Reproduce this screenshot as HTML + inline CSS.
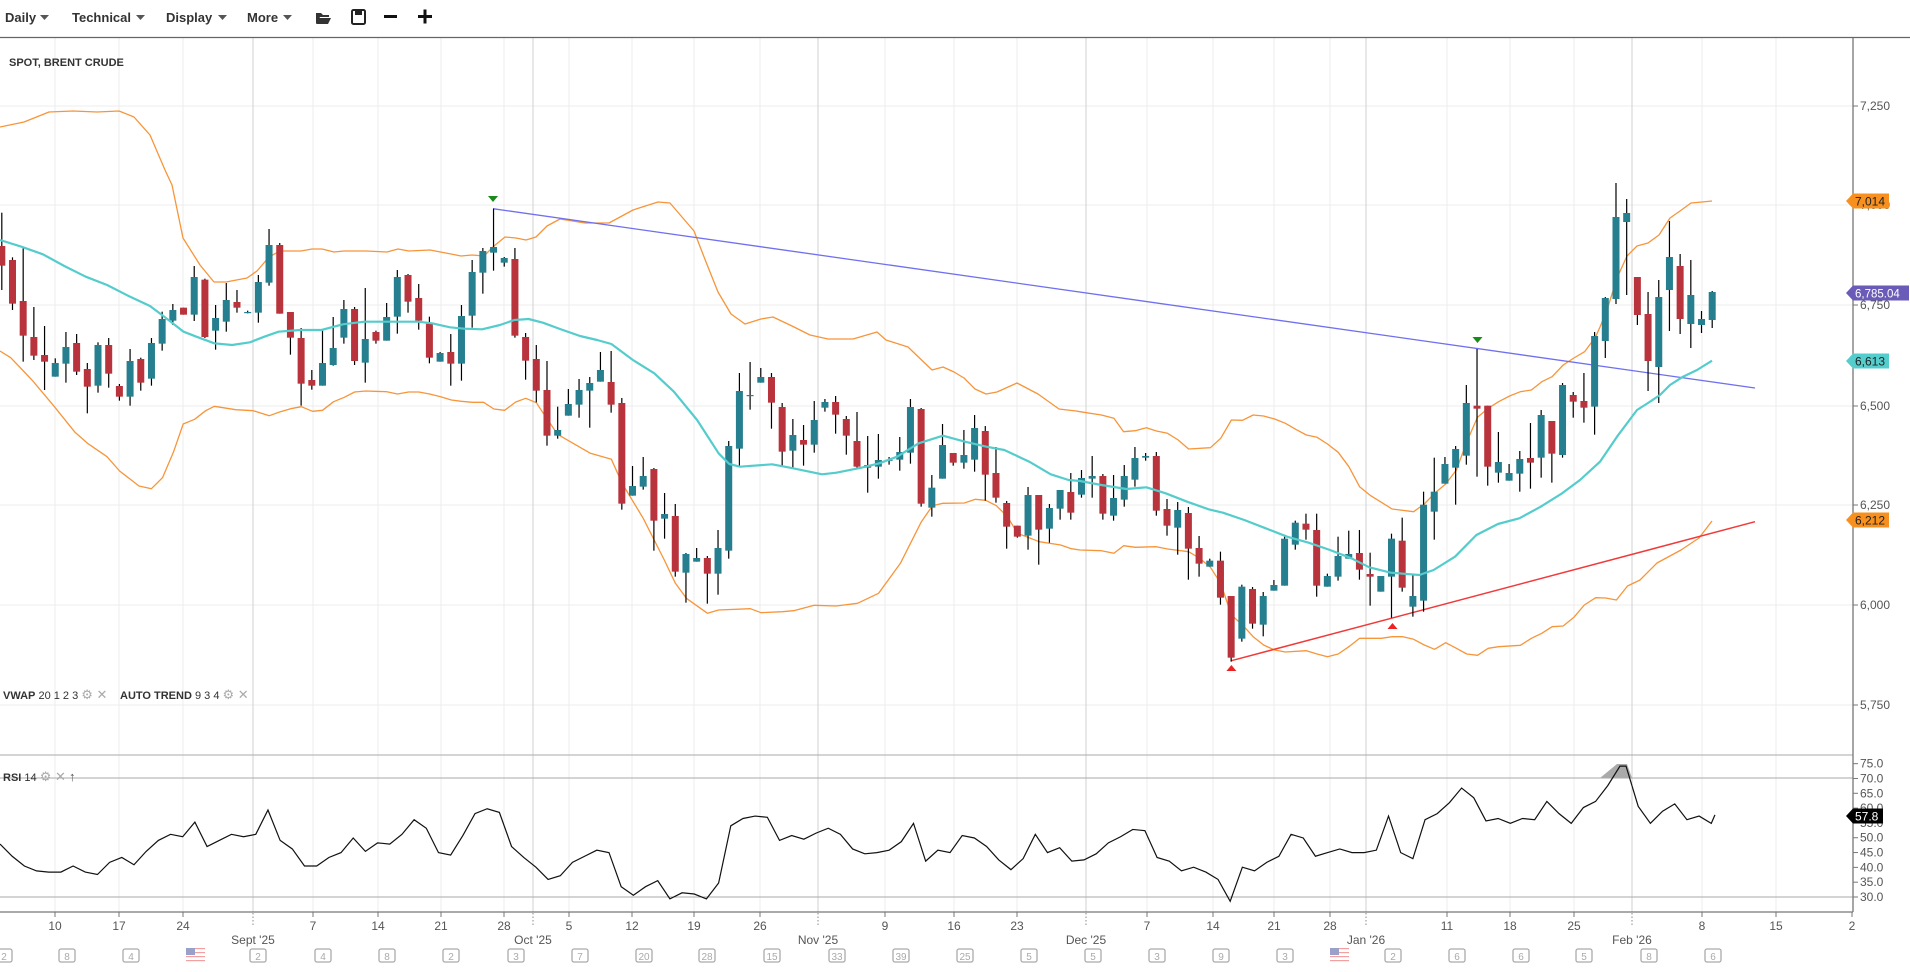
<!DOCTYPE html>
<html><head><meta charset="utf-8">
<style>
html,body{margin:0;padding:0;background:#fff;}
body{width:1910px;height:967px;overflow:hidden;font-family:"Liberation Sans",sans-serif;}
svg text{font-family:"Liberation Sans","DejaVu Sans",sans-serif;}
</style></head>
<body>
<svg id="s" width="1910" height="967" viewBox="0 0 1910 967" xmlns="http://www.w3.org/2000/svg">
<rect width="1910" height="967" fill="#fff"/>
<defs><clipPath id="cp"><rect x="0" y="38" width="1853" height="717"/></clipPath>
<clipPath id="cr"><rect x="0" y="755" width="1853" height="157"/></clipPath></defs>
<g id="grid"></g>
<g font-size="13" font-weight="bold" fill="#333">
<text x="5" y="22">Daily</text><path d="M40 15l9 0-4.5 5z" fill="#555"/>
<text x="72" y="22">Technical</text><path d="M136 15l9 0-4.5 5z" fill="#555"/>
<text x="166" y="22">Display</text><path d="M218 15l9 0-4.5 5z" fill="#555"/>
<text x="247" y="22">More</text><path d="M283 15l9 0-4.5 5z" fill="#555"/>
</g>
<path d="M316 13h5l2 2h6v2h-9l-3 6h-1z M319 18h12l-3 6h-12z" fill="#333"/>
<rect x="352" y="10" width="13" height="14" rx="1.5" fill="none" stroke="#222" stroke-width="2"/><rect x="355" y="10" width="7" height="5" fill="#222"/>
<rect x="384" y="15" width="13" height="3" fill="#111"/>
<rect x="418" y="15" width="14" height="3" fill="#111"/><rect x="423.5" y="9.5" width="3" height="14" fill="#111"/>
<line x1="0" y1="37.5" x2="1910" y2="37.5" stroke="#666" stroke-width="1.2"/>
<text x="9" y="66" font-size="11" font-weight="bold" fill="#333">SPOT, BRENT CRUDE</text>
<g id="main" clip-path="url(#cp)"></g>
<g id="rsi" clip-path="url(#cr)"></g>
<line x1="0" y1="755" x2="1853" y2="755" stroke="#aaa"/>
<line x1="0" y1="912" x2="1853" y2="912" stroke="#777" stroke-width="1.3"/>
<line x1="1853" y1="38" x2="1853" y2="912" stroke="#777" stroke-width="1.3"/>
<g font-size="11" fill="#333">
<text x="3" y="699"><tspan font-weight="bold">VWAP</tspan> 20 1 2 3 <tspan fill="#aaa" font-size="13">⚙ ✕</tspan></text>
<text x="120" y="699"><tspan font-weight="bold">AUTO TREND</tspan> 9 3 4 <tspan fill="#aaa" font-size="13">⚙ ✕</tspan></text>
<text x="3" y="781"><tspan font-weight="bold">RSI</tspan> 14 <tspan fill="#aaa" font-size="13">⚙ ✕</tspan> <tspan fill="#555" font-size="13">↑</tspan></text>
</g>
<g id="axis" font-size="12" fill="#555"></g>
<g id="tags"></g>
</svg>
<script>
var NS="http://www.w3.org/2000/svg";
function el(p,t,a,txt){var e=document.createElementNS(NS,t);for(var k in a)e.setAttribute(k,a[k]);if(txt!=null)e.textContent=txt;document.getElementById(p).appendChild(e);return e;}
var G='grid';
[106,205,305,406,505,605,705].forEach(function(y){el(G,'line',{x1:0,x2:1853,y1:y,y2:y,stroke:'#ececec'});});
var wk=[55,119,183,313,378,441,504,569,632,694,760,885,954,1017,1147,1213,1274,1330,1447,1510,1574,1702,1776];
var mo=[253,533,818,1086,1366,1632];
wk.forEach(function(x){el(G,'line',{x1:x,x2:x,y1:38,y2:912,stroke:'#ececec'});});
mo.forEach(function(x){el(G,'line',{x1:x,x2:x,y1:38,y2:912,stroke:'#d0d0d0'});});
[[778,'#aaa'],[897,'#aaa']].forEach(function(a){el(G,'line',{x1:0,x2:1853,y1:a[0],y2:a[0],stroke:a[1]});});
var A='axis';
[[106,'7,250'],[205,'7,000'],[305,'6,750'],[406,'6,500'],[505,'6,250'],[605,'6,000'],[705,'5,750']].forEach(function(a){
 el(A,'line',{x1:1853,x2:1858,y1:a[0],y2:a[0],stroke:'#777'});el(A,'text',{x:1860,y:a[0]+4},a[1]);});
[75,70,65,60,55,50,45,40,35,30].forEach(function(v){var y=897-(v-30)*2.963;
 el(A,'line',{x1:1853,x2:1858,y1:y,y2:y,stroke:'#777'});el(A,'text',{x:1860,y:y+4},v.toFixed(1));});
var tl=[[55,'10'],[119,'17'],[183,'24'],[313,'7'],[378,'14'],[441,'21'],[504,'28'],[569,'5'],[632,'12'],[694,'19'],[760,'26'],[885,'9'],[954,'16'],[1017,'23'],[1147,'7'],[1213,'14'],[1274,'21'],[1330,'28'],[1447,'11'],[1510,'18'],[1574,'25'],[1702,'8'],[1776,'15'],[1852,'2']];
tl.forEach(function(a){el(A,'line',{x1:a[0],x2:a[0],y1:912,y2:917,stroke:'#777'});el(A,'text',{x:a[0],y:930,'text-anchor':'middle'},a[1]);});
[[253,"Sept '25"],[533,"Oct '25"],[818,"Nov '25"],[1086,"Dec '25"],[1366,"Jan '26"],[1632,"Feb '26"]].forEach(function(a){
 el(A,'line',{x1:a[0],x2:a[0],y1:913,y2:927,stroke:'#888','stroke-dasharray':'1.5,2'});
 el(A,'text',{x:a[0],y:944,'text-anchor':'middle'},a[1]);});
var cal=[[4,'2'],[67,'8'],[131,'4'],[195,'F'],[258,'2'],[323,'4'],[387,'8'],[451,'2'],[516,'3'],[580,'7'],[644,'20'],[707,'28'],[772,'15'],[837,'33'],[901,'39'],[965,'25'],[1029,'5'],[1093,'5'],[1157,'3'],[1221,'9'],[1285,'3'],[1339,'F'],[1393,'2'],[1457,'6'],[1521,'6'],[1584,'5'],[1649,'8'],[1713,'6']];
cal.forEach(function(a){var x=a[0];
 if(a[1]=='F'){for(var i=0;i<7;i++)el(A,'rect',{x:x-9,y:948+i*2,width:19,height:1.2,fill:i%2?'#fff':'#f2a0a0'});
  el(A,'rect',{x:x-9,y:948,width:9,height:7,fill:'#9aa0c8'});return;}
 el(A,'rect',{x:x-8,y:949,width:16,height:13,rx:2,fill:'#fff',stroke:'#aaa','stroke-width':1.3});
 el(A,'text',{x:x,y:960,'text-anchor':'middle','font-size':10,fill:'#aaa'},a[1]);});

var z5=[['r',198,257,98,330],['r',240,371,232,390],['r',363,467,205,545],['r',471,527,381,540],['r',525,545,438,630],['t',549,590,535,590],['t',501,551,456,608],['r',489,575,462,585],['r',567,620,549,700],['t',495,617,487,638],['r',495,581,474,623],['r',618,650,612,662],['t',543,650,507,677],['r',537,608,533,632],['t',489,596,474,617],['t',417,491,395,512],['t',390,422,372,435],['r',383,404,383,404],['t',291,404,258,423],['r',299,471,296,474],['t',414,452,375,509],['t',360,425,309,455],['r',366,383,330,398],['t',396,398,392,400],['t',306,398,285,428],['t',195,308,147,317],['r',195,401,189,401],['r',396,473,396,524],['r',474,611,444,677],['r',600,617,570,629],['t',549,617,452,617],['t',504,555,411,557],['t',387,473,360,491],['r',387,543,381,555],['t',477,548,324,608],['r',456,482,452,491],['t',411,482,369,482],['t',291,410,270,461],['r',285,365,282,398],['r',354,422,312,449],['r',431,533,410,550],['t',519,545,516,545],['r',516,551,462,617],['t',408,551,375,602],['t',276,407,240,443],['t',213,278,204,341],['t',201,218,86,272],['t',234,248,231,260],['r',237,467,204,473],['r',471,542,459,599],['r',537,632,495,667]];
var z6=[['r',150,287,63,317],['t',270,287,200,296],['t',192,227,147,227],['t',150,194,117,233],['t',129,152,111,263],['t',90,125,36,125],['r',126,194,33,218],['r',189,491,174,509],['t',438,467,378,467],['t',408,440,351,449],['r',387,542,384,632],['t',522,536,459,596],['r',528,695,492,710],['t',642,698,639,788],['t',654,665,624,665],['r',654,701,648,791],['t',624,701,570,764],['t',318,632,303,656],['t',153,326,99,377],['t',165,167,66,209],['t',111,128,84,128],['r',111,188,99,266],['r',201,335,189,377],['t',285,332,237,383],['r',300,314,255,377],['t',240,314,183,338],['t',186,203,177,215],['r',186,224,168,281],['r',237,287,228,344],['r',303,380,216,383],['r',375,383,288,458],['t',360,380,282,416],['t',359,361,351,374],['t',336,359,291,392],['t',201,338,177,371],['r',207,491,204,500],['t',443,503,405,530],['t',315,416,252,416],['r',339,368,339,377],['t',345,368,270,386],['t',264,359,225,395],['r',273,404,258,482],['r',399,473,321,488],['r',489,560,483,626],['r',557,590,557,593],['t',465,587,441,629],['r',465,569,465,674],['t',504,566,492,608],['t',450,506,450,539],['r',456,518,399,539],['t',414,464,390,473],['t',408,416,348,473]];
var z7=[['r',438,551,432,569],['t',504,557,435,572],['t',438,509,405,530],['t',384,449,351,470],['t',378,383,369,392],['r',378,542,366,557],['r',537,587,507,617],['t',540,593,516,674],['r',549,656,531,749],['r',654,701,618,740],['t',692,710,686,710],['r',692,803,665,824],['r',798,983,798,995],['t',770,926,764,935],['r',777,881,771,896],['t',798,884,786,919],['t',765,782,750,782],['t',626,767,614,767],['t',578,644,572,659],['r',581,599,551,629],['r',600,767,551,800],['t',738,770,731,770],['t',678,740,620,752],['t',672,686,602,686],['r',669,719,600,749],['r',732,740,668,827],['t',738,785,738,785],['t',626,740,611,863],['r',632,773,563,785],['t',798,830,734,860],['t',524,812,485,845],['t',485,545,383,629],['t',402,461,381,461],['t',357,413,348,524],['t',219,377,165,404],['r',227,236,57,440],['r',227,410,227,467],['t',396,428,306,458],['t',429,452,402,452],['t',387,431,363,485],['r',384,398,279,476],['t',255,383,240,443],['r',273,371,273,458],['t',165,375,159,383],['r',195,215,186,263],['r',213,233,129,278],['t',18,230,6,314]];
var zf=[['t',298,341,297,358],['t',217,299,183,304],['t',213,222,199,295],['r',277,315,277,325],['r',314,361,292,391],['t',297,367,280,403],['t',257,290,221,331],['r',266,319,254,334],['t',295,324,260,348],['t',319,325,311,333],['t',292,320,291,328]];
var C=[];
z5.forEach(function(a){C.push([a[0],a[1]/3+180,a[2]/3+180,a[3]/3+180,a[4]/3+180]);});
z6.forEach(function(a){C.push([a[0],a[1]/3+340,a[2]/3+340,a[3]/3+340,a[4]/3+340]);});
z7.forEach(function(a){C.push([a[0],a[1]/3+330,a[2]/3+330,a[3]/3+330,a[4]/3+330]);});
zf.forEach(function(a){C.push(a);});
var M='main';
function pl(pts,col,w){el(M,'polyline',{points:pts.map(function(p){return p[0]+','+p[1];}).join(' '),fill:'none',stroke:col,'stroke-width':w,'stroke-linejoin':'round'});}
var upper=[[0,127],[24,122],[49,112],[73,111],[97,112],[119,111],[134,117],[150,135],[165,170],[172,185],[183,238],[200,265],[214,282],[226,282],[247,278],[257,271],[269,257],[280,251],[301,251],[312,249],[322,249],[334,252],[344,251],[366,251],[387,252],[398,249],[409,251],[430,250],[451,254],[461,256],[472,255],[484,256],[494,246],[505,237],[516,238],[526,240],[536,237],[547,226],[560,219],[585,223],[609,223],[633,210],[658,202],[670,203],[682,217],[694,231],[706,262],[718,292],[731,314],[745,324],[761,319],[773,317],[792,326],[810,335],[828,339],[853,339],[877,332],[886,340],[908,347],[932,370],[943,367],[954,372],[964,378],[975,389],[986,394],[997,392],[1017,383],[1038,394],[1059,409],[1076,411],
[1080,411.7],[1101.4,415],[1113.9,418.3],[1123.6,431.7],[1135.4,430.7],[1146.4,427.7],[1156.4,431],[1167.5,433.3],[1178.2,440],[1188.6,449],[1210.4,447.7],[1220.7,438.3],[1231.4,420],[1242.5,420.3],[1253.2,415],[1263.6,416],[1274.6,419],[1285.4,423.3],[1295.7,429.3],[1306.4,435],[1317.1,437.3],[1327.5,444],[1338.2,452.3],[1348.9,466.7],[1359.6,486.7],[1370.7,495.7],[1381.4,502.3],[1392.1,509],[1413.6,511.7],[1424.3,504],[1434.6,493.3],[1445.7,484],[1456.4,470],[1466.8,441.7],[1477.5,417.3],[1488.2,408.3],[1498.6,401.7],[1509.6,396],[1520.4,391.7],[1531.4,390],[1541.8,381.7],[1552.1,376.7],[1563.2,365],[1573.9,358],[1584.6,351.7],[1595.7,336.7],[1600,327],[1607,310],[1617,278],[1627,256],[1637,246],[1648,243],[1659,235],[1670,218],[1680,211],[1691,203],[1702,202],[1712,201]];
var lx=[0,10.7,32,53.6,75,87.5,107,119.6,139,151.4,162.5,173.6,183.2,194.6,205.7,214.3,235.7,253.2,269.3,279.6,290.7,301.4,312.5,322.5,333.6,344.3,354.6,365.7,386.8,397.5,408.6,418.9,429.6,440.7,451.4,461.4,472.5,483.6,493.9,504.6,515.7,525.7,536.4];
var ly=[351,357.7,380,405.7,432.3,443.3,456.7,471,486,488.7,477.7,451.7,424,419.3,410.7,406.3,409.7,410.7,415.7,412,408.7,406.7,411.3,410.3,401.7,397.3,392,391,391.7,394,392,392,394,396.7,400,401.3,402.3,402.3,409,410.3,402,398.3,402.7];
var lower=lx.map(function(x,i){return [x,ly[i]];});
var l6x=[540,557.5,590.4,611.4,622.1,643.2,664.3,675.4,686.4,707.5,718.6,750.4,761.1,782.5,793.6,814.3,836.1,857.5,878.6,900.4,921.4,932.5,942.9,964.3,975.4,985.7,996.4,1007.5,1017.5,1039.3,1060.7,1071.4];
var l6y=[408.3,434.3,453.3,459.3,483.3,518.3,560,583.3,598.3,613.3,610,608.7,612.7,611.7,610.7,605.3,606,603.3,593.3,563.3,521.7,505.7,503.3,503,499.3,500.3,505.7,516.7,533.3,541.7,545,548.7];
l6x.forEach(function(x,i){lower.push([x,l6y[i]]);});
var l7x=[1080,1101.4,1113.9,1123.6,1135.4,1156.4,1167.5,1188.6,1199.3,1210.4,1220.7,1231.4,1242.5,1253.2,1263.6,1274.6,1285.4,1306.4,1317.1,1327.5,1338.2,1348.9,1359.6,1381.4,1392.1,1402.9,1413.6,1424.3,1434.6,1445.7,1456.4,1466.8,1477.5,1488.2,1498.6,1520.4,1531.4,1541.8,1552.1,1563.2,1573.9,1584.3,1595.7,1605.7,1616.4,1627.5,1640,1657,1681,1699,1712];
var l7y=[550,550.7,553.3,545.7,547.3,546.7,549,551.7,558,567.3,583.3,615,625,636.7,645,650,652,650.7,654,656.7,654,646.7,638.3,638.3,636.7,636.7,639.3,645,649.3,642.7,648.3,654,655.3,648.3,646.7,645.3,638.3,633.3,626.7,626,617.3,605,597.7,598,600,586,580,563,550,538,521];
l7x.forEach(function(x,i){lower.push([x,l7y[i]]);});
var ma=[];
[[0,240],[21.4,246.7],[42.9,254.3],[64.3,266],[85.7,276.7],[107.1,285],[128.6,296],[150,306],[164.3,316.7],[183.6,331.7],[196.4,336.7],[214.3,343.3],[232.1,345],[250,342.3],[264.3,336.7],[278.6,331.7],[300,330],[321.4,330],[342.9,324.3],[364.3,321.7],[392.9,321.7],[417.9,321.7],[432.1,323.3],[450,327.3],[464.3,328.7],[482.1,329.3],[500,325],[514.3,320],[528.6,319],[542.9,322.7],[560,329],[580,336],
[597.1,340],[611.4,344],[632.9,360],[654.3,373.3],[673.9,391.7],[697.1,420],[718.6,453.3],[729.3,464],[740,466.7],[772.1,464.3],[790,467.7],[822.1,474.3],[836.4,472.7],[861.4,467.7],[879.3,463.3],[897.1,456.7],[918.6,443.3],[942.9,435.7],[965,441.7],[986.4,446.7],[1004.3,450],[1029.3,461.7],[1050.7,474.3],[1068.6,480],
[1080,481],[1101.4,485],[1126.4,489],[1146.4,487.3],[1165.7,493.3],[1187.1,501.7],[1208.6,509.3],[1222.9,512.7],[1244.3,520],[1265.7,528.3],[1287.1,536.7],[1308.6,542.7],[1330,550],[1351.4,558.3],[1369.3,567.3],[1390.7,572.7],[1419.3,575],[1433.6,570],[1455,556.7],[1476.4,535],[1497.9,524],[1519.3,518.3],[1540.7,506.7],[1562.1,493.3],[1580,480],[1600,461.7],[1617,436.7],[1637,410],[1648,403],[1660,395],[1670,385],[1683,376.7],[1697,370],[1712,360.7]].forEach(function(p){ma.push(p);});
pl(upper,'#f7953a',1.3);pl(lower,'#f7953a',1.3);
el(M,'line',{x1:493,y1:208.7,x2:1755,y2:388,stroke:'#6f6ff0','stroke-width':1.3});
el(M,'line',{x1:1231.4,y1:660.7,x2:1755,y2:521.7,stroke:'#f03a3a','stroke-width':1.5});
C.forEach(function(c,i){var x=1.8+10.69*i;
 el(M,'line',{x1:x,x2:x,y1:c[3],y2:c[4],stroke:'#000','stroke-width':1.2});
 var h=Math.max(1.2,c[2]-c[1]);
 el(M,'rect',{x:x-3.5,y:c[1],width:7,height:h,fill:c[0]=='t'?'#267f8e':'#b8333c'});});
pl(ma,'#55cccc',2.2);
el(M,'path',{d:'M488 196h10l-5 6z',fill:'#1a8a1a'});
el(M,'path',{d:'M1472.5 337h10l-5 6z',fill:'#1a8a1a'});
el(M,'path',{d:'M1226.4 671h10l-5 -6z',fill:'#ee2222'});
el(M,'path',{d:'M1387.5 629h10l-5 -6z',fill:'#ee2222'});
var rr=[[0,693],[10,703],[20,711],[30,715],[40,716],[50,716],[60,711],[70,716],[80,718],[90,708],[100,704],[110,710],[120,699],[130,690],[140,685],[150,687],[160,675],[170,695],[180,690],[190,685],[200,687],[210,685],[220,665],[230,690],[240,697],[250,711],[260,711],[270,704],[280,700],[290,688],[300,699],[310,692],[320,693],[330,685],[340,673],[350,680],[360,700],[370,702],[380,686],[390,668],[400,664],[410,667],[420,695],[430,704],[440,712],[450,722],[460,719],[470,708],[480,703],[490,698],[500,700],[510,728],[520,735],[530,728],[540,723],[550,738],[560,733],[570,734],[580,738],[590,725],[600,678],[610,672],[620,670],[630,671],[640,690],[650,686],[660,689],[670,684],[680,680],[690,685],[700,697],[710,701],[720,700],[730,698],[740,691],[750,676],[760,707],[770,698],[780,700],[790,686],[800,688],[810,695],[820,706],[830,714],[840,705],[850,685],[860,700],[870,696],[880,707],[890,706],[900,701],[910,692],[920,687],[930,681],[940,682],[950,704],[960,707],[970,715],[980,712],[990,716],[1000,722],[1010,740],[1020,712],[1030,715],[1040,708],[1050,703],[1060,685],[1070,688],[1080,703],[1090,700],[1100,697],[1110,700],[1120,700],[1130,698],[1140,670],[1150,700],[1160,705],[1170,673],[1180,668],[1190,659],[1200,647],[1210,655],[1220,674],[1230,672],[1240,676],[1250,672],[1260,673],[1270,658],[1280,668],[1290,676],[1300,663],[1310,658],[1320,645],[1330,629],[1335,629],[1345,662],[1355,676],[1365,666],[1375,660],[1385,673],[1395,670],[1405,676],[1408,669]];
el('rsi','path',{d:'M1600 778L1617 764L1627 764L1632 778Z',fill:'#aaa'});
el('rsi','polyline',{points:rr.map(function(p){return (p[0]*1.218)+','+(p[1]*1.218);}).join(' '),fill:'none',stroke:'#111','stroke-width':1.2});
function tag(y,w,bg,fg,t,fs){el('tags','path',{d:'M1846 '+y+'l7 -7.5h'+w+'v15h-'+w+'z',fill:bg});
 el('tags','text',{x:1855,y:y+4.5,'font-size':fs||12,fill:fg},t);}
tag(201,36,'#f7901e','#222','7,014');
tag(293,56,'#6a5bb8','#fff','6,785.04',11.5);
tag(361,36,'#55cdcd','#222','6,613');
tag(520,36,'#f7901e','#222','6,212');
tag(816,30,'#000','#fff','57.8');
</script>
</body></html>
